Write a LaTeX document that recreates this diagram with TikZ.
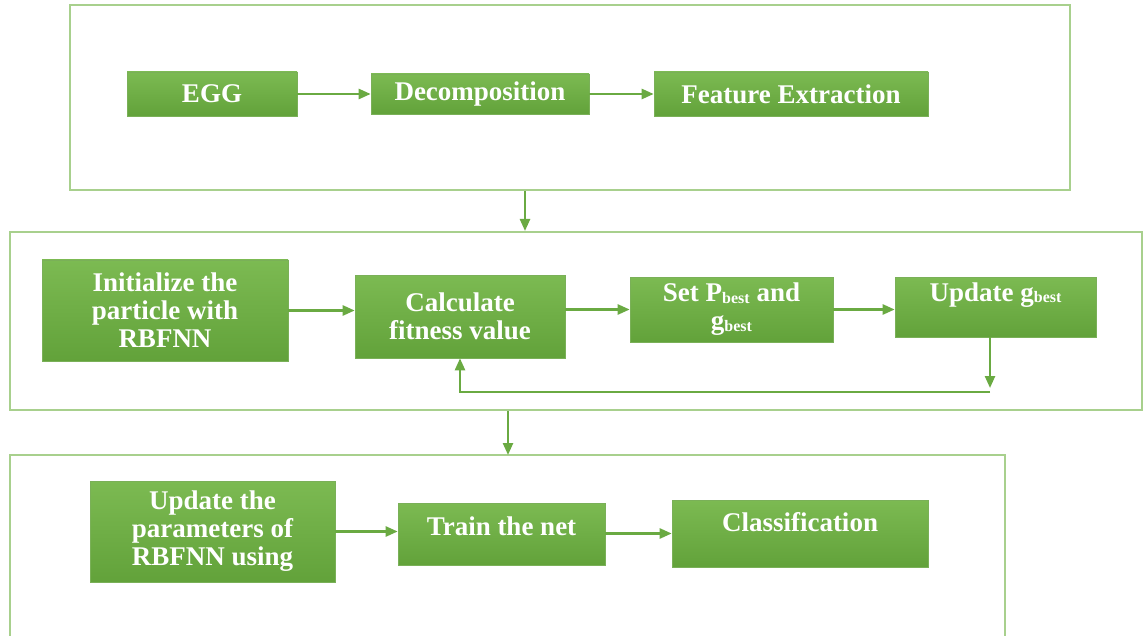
\documentclass[tikz,border=0pt]{standalone}
\usepackage{fontspec}
\setmainfont{Liberation Serif}
\usetikzlibrary{arrows.meta,calc}
\definecolor{gtop}{HTML}{7CBA52}
\definecolor{gbot}{HTML}{62A23A}
\definecolor{framec}{HTML}{A8D08D}
\definecolor{arrc}{HTML}{6AAA42}
\newcommand{\bst}{\raisebox{-1.5pt}{\fontsize{16}{16}\selectfont best}}
\begin{document}
\begin{tikzpicture}[x=1pt,y=-1pt,
 blk/.style={rectangle, top color=gtop, bottom color=gbot, draw=gbot!85!white, line width=0.6pt,
   text=white, font=\fontsize{27}{28}\selectfont\bfseries, align=center, inner sep=0pt},
 frm/.style={draw=framec, line width=2pt},
 conn/.style={draw=arrc, line width=2.4pt, -{Triangle[length=12pt,width=10pt]}}
]
\useasboundingbox (0,0) rectangle (1145,636);

% frames
\node[frm, minimum width=1000pt, minimum height=185pt, inner sep=0pt] (f1) at (570,97.5) {};
\node[frm, minimum width=1132pt, minimum height=178pt, inner sep=0pt] (f2) at (576,321) {};
\draw[frm] (10,636) -- (10,455) -- (1005,455) -- (1005,636);
\coordinate (f3in) at (508,455);

% row 1
\node[blk, minimum width=170pt, minimum height=44pt] (egg) at (212,94) {EGG};
\node[blk, minimum width=218pt, minimum height=40pt] (dec) at (480,94) {Decomposition};
\node[blk, minimum width=274pt, minimum height=44pt] (feat) at (791,94) {Feature Extraction};

% row 2
\node[blk, minimum width=246pt, minimum height=101pt] (init) at (165,310.5) {Initialize the\\particle with\\RBFNN};
\node[blk, minimum width=210pt, minimum height=83pt] (calc) at (460,316.5) {Calculate\\fitness value};
\node[blk, minimum width=203pt, minimum height=65pt] (setp) at (731.5,309.5) {Set P\bst{} and\\g\bst};
\node[blk, minimum width=201pt, minimum height=60pt, text depth=30pt] (updg) at (995.5,307) {Update g\bst};

% row 3
\node[blk, minimum width=245pt, minimum height=101pt] (updp) at (212.5,531.5) {Update the\\parameters of\\RBFNN using};
\node[blk, minimum width=207pt, minimum height=62pt, text depth=16pt] (train) at (501.5,534) {Train the net};
\node[blk, minimum width=256pt, minimum height=67pt, text depth=24pt] (cls) at (800,533.5) {Classification};

% connectors
\draw[conn] (egg.east) -- (dec.west);
\draw[conn] (dec.east) -- (dec.east -| feat.west);
\draw[conn] ([xshift=-45pt]f1.south) -- ([xshift=-45pt]f1.south |- f2.north);
\draw[conn] (init.east) -- (init.east -| calc.west);
\draw[conn] (calc.east |- setp.west) -- (setp.west);
\draw[conn] (setp.east) -- (setp.east -| updg.west);
\coordinate (fb) at (990,388);
\draw[conn] (fb |- updg.south) -- (fb);
\draw[conn] ([yshift=-4pt]fb) -- ([yshift=-4pt]fb -| calc.south) -- (calc.south);
\draw[conn] ([xshift=-68pt]f2.south) -- (f3in);
\draw[conn] (updp.east) -- (updp.east -| train.west);
\draw[conn] (train.east |- cls.west) -- (cls.west);
\end{tikzpicture}
\end{document}
